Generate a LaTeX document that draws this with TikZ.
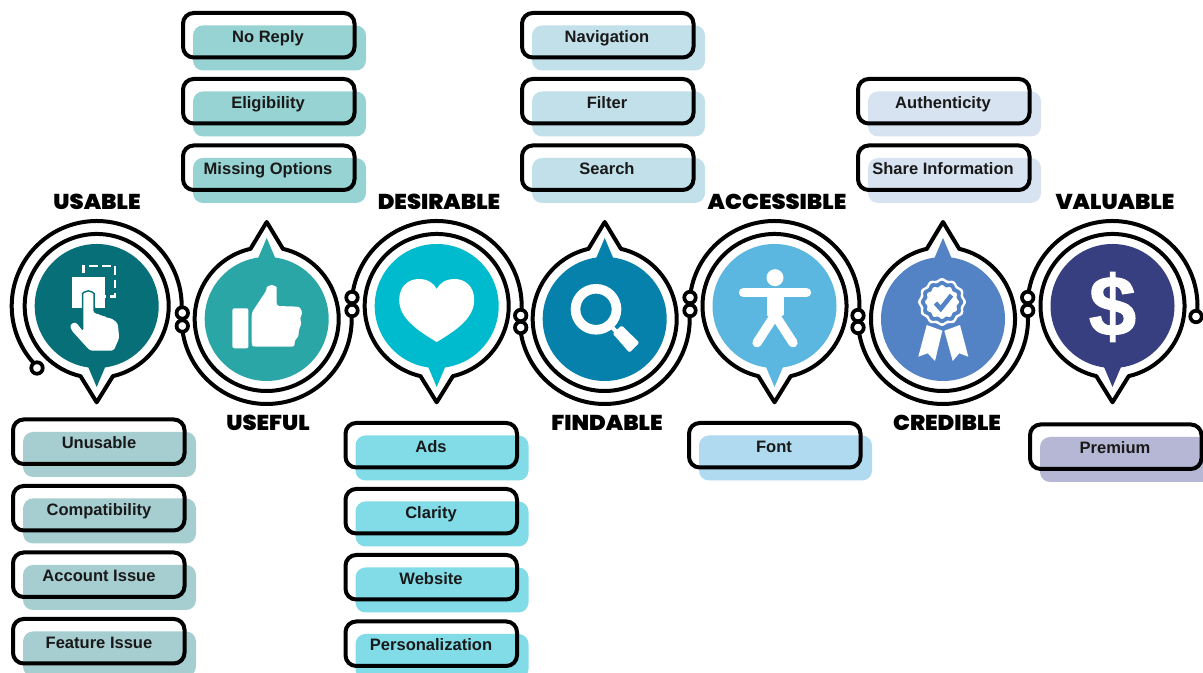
\documentclass[tikz,border=0pt]{standalone}
\usepackage{fontspec}
\setmainfont{Liberation Sans}
\newfontfamily\hdfont{Poppins}[UprightFont=* Black,FakeStretch=1.05]
\newfontfamily\dollarfont{Liberation Sans}[UprightFont=* Bold,FakeBold=1.2]
\usetikzlibrary{calc}
\definecolor{cA}{HTML}{066F78}\definecolor{cB}{HTML}{2BA6A6}\definecolor{cC}{HTML}{00BBCE}
\definecolor{cD}{HTML}{0681AB}\definecolor{cE}{HTML}{5BB7E0}\definecolor{cF}{HTML}{5383C5}\definecolor{cG}{HTML}{373F80}
\definecolor{sA}{HTML}{A6CDD0}\definecolor{sB}{HTML}{97D3D2}\definecolor{sC}{HTML}{82DCE8}
\definecolor{sD}{HTML}{C2E0E9}\definecolor{sE}{HTML}{AFDAEF}\definecolor{sF}{HTML}{D7E3F0}\definecolor{sG}{HTML}{B6B7D4}
\tikzset{
  x=0.75pt,y=0.75pt,
  ink/.style={draw=black,line width=3pt,line join=round},
  knot/.style={circle,draw=black,fill=white,line width=2.8pt,minimum size=8.6pt,inner sep=0pt},
  headlabel/.style={font=\hdfont\fontsize{16.1}{17}\selectfont,text=black,inner sep=0pt},
  itemlabel/.style={font=\bfseries\fontsize{12.4}{14}\selectfont,text=black!90,inner sep=0pt,anchor=base},
  icon/.style={fill=white,draw=none},
}
\newcommand{\bubble}[5]{%
  \coordinate (#5) at (#1,#2);
  \fill[#3] (#5) circle[radius=62];
  \fill[#3] ($(#5)+(-8.5,#4*61)$) -- ($(#5)+(0,#4*81)$) -- ($(#5)+(8.5,#4*61)$) -- cycle;
  \ifnum#4<0
    \draw[ink] ($(#5)+(283:72)$) arc[start angle=283,end angle=617,radius=72]
       -- ($(#5)+(0,-96.3)$) -- cycle;
  \else
    \draw[ink] ($(#5)+(103:72)$) arc[start angle=103,end angle=437,radius=72]
       -- ($(#5)+(0,97)$) -- cycle;
  \fi}
\newcommand{\itembox}[6]{%
  \fill[#3,rounded corners=7.5pt] (#1+12,673-#2-14) rectangle (#1+185,673-#2-59);
  \node[itemlabel] (#5) at (#1+#6,673-#2-31) {#4};
  \draw[draw=black,line width=3pt,rounded corners=8pt] (#1+2,673-#2-1.5) rectangle (#1+173.5,673-#2-46);}
\newcommand{\rosette}[2]{\fill[#2] plot[domain=0:360,samples=145,smooth] (\x:{#1+0.9*cos(12*\x)}) -- cycle;}
\begin{document}
\begin{tikzpicture}
\useasboundingbox (0,0) rectangle (1203,673);
\fill[white] (0,0) rectangle (1203,673);
\bubble{96.7}{367}{cA}{-1}{c1}
\bubble{266.7}{354}{cB}{1}{c2}
\bubble{436.7}{367}{cC}{-1}{c3}
\bubble{604.7}{354}{cD}{1}{c4}
\bubble{774.5}{367}{cE}{-1}{c5}
\bubble{943}{354}{cF}{1}{c6}
\bubble{1112.5}{367}{cG}{-1}{c7}
\coordinate (s1) at (37,305);
\coordinate (k1a) at (182.3,360);\coordinate (k1b) at (182.3,347);
\coordinate (k2a) at (352,375.5);\coordinate (k2b) at (352,362.5);
\coordinate (k3a) at (520.7,357.5);\coordinate (k3b) at (520.7,345.5);
\coordinate (k4a) at (690,375.5);\coordinate (k4b) at (690,362.5);
\coordinate (k5a) at (858,357.5);\coordinate (k5b) at (858,345.5);
\coordinate (k6a) at (1027.7,375.5);\coordinate (k6b) at (1027.7,362.5);
\coordinate (e7) at (1196,356.5);
\draw[ink] (c1)+(225:85) arc[start angle=225,end angle=-5,radius=85];
\draw[ink] (c2)+(185:85) arc[start angle=185,end angle=365,radius=85];
\draw[ink] (c3)+(174.5:85) arc[start angle=174.5,end angle=-7,radius=85];
\draw[ink] (c4)+(185:85) arc[start angle=185,end angle=365,radius=85];
\draw[ink] (c5)+(174.5:85) arc[start angle=174.5,end angle=-7,radius=85];
\draw[ink] (c6)+(185:85) arc[start angle=185,end angle=365,radius=85];
\draw[ink] (c7)+(174.5:85) arc[start angle=174.5,end angle=-7,radius=85];
\foreach \k in {s1,k1a,k1b,k2a,k2b,k3a,k3b,k4a,k4b,k5a,k5b,k6a,k6b,e7}
  \node[knot] at (\k) {};
% icon 1: hand
\begin{scope}[shift={(c1)}]
  \fill[icon] (-25,29.3) rectangle (8.3,-2);
  \draw[white,line width=2.2pt,dash pattern=on 6.2pt off 3.6pt] (-13.4,33) -- (-13.4,40) -- (18.3,40) -- (18.3,9.8) -- (8,9.8);
  \def\handpath{(-13.4,-25.7) -- (-13.4,9.3) arc[start angle=180,end angle=0,radius=5] -- (-3.4,-7.3)
    -- (1,-7.5) -- (3,-9.8) -- (7,-9.5) -- (9,-11.8) -- (14,-12) -- (21,-17) -- (22.5,-32) -- (17,-44.7) -- (-6.7,-44.7)
    -- (-25.5,-24) -- (-26.7,-18.5) -- (-21,-16) -- cycle}
  \draw[icon,draw=cA,line width=2.3pt,rounded corners=2pt] \handpath;
  \fill[icon,rounded corners=2pt] \handpath;
\end{scope}
% icon 2: thumb
\begin{scope}[shift={(c2)}]
  \fill[icon,rounded corners=1.5pt] (-34.3,10.7) rectangle (-18.3,-29.3);
  \fill[icon,rounded corners=2pt] (-15,6.3) -- (0,29) arc[start angle=180,end angle=0,radius=5] -- (10,13)
    -- (33,12.3) -- (36,5.7) -- (33,0.7) -- (35,-4.3) -- (32,-11) -- (32,-17.7) -- (28,-21) -- (28,-27.7) -- (-13,-27.7) -- (-15,-26) -- cycle;
\end{scope}
% icon 3: heart
\begin{scope}[shift={(c3)}]
  \fill[icon] (0,-36) .. controls (-20,-24) and (-37.5,-12) .. (-37.5,6)
    .. controls (-37.5,20) and (-28,27) .. (-18,27) .. controls (-9,27) and (-3,23) .. (0,17)
    .. controls (3,23) and (9,27) .. (18,27) .. controls (28,27) and (37.5,20) .. (37.5,6)
    .. controls (37.5,-12) and (20,-24) .. (0,-36) -- cycle;
\end{scope}
% icon 4: magnifier
\begin{scope}[shift={(c4)}]
  \draw[white,line width=7.2pt] (-8.7,9.7) circle[radius=20.5];
  \draw[white,line width=3pt] (7,-8) -- (14,-15);
  \fill[icon,rounded corners=1pt] (8,-14.5) -- (17,-6.5) -- (34.7,-23.7) -- (24.7,-33.7) -- cycle;
\end{scope}
% icon 5: person
\begin{scope}[shift={(c5)}]
  \fill[icon] (0.5,28.3) circle[radius=8.5];
  \draw[white,line width=7pt,line cap=round] (-31,13.3) -- (32,13.3);
  \fill[icon] (-8,13) rectangle (9,-9);
  \fill[icon] (-8,-9) -- (9,-9) -- (0.5,-14) -- cycle;
  \draw[white,line width=7pt,line cap=round] (0.5,-9) -- (-17.5,-36.7);
  \draw[white,line width=7pt,line cap=round] (0.5,-9) -- (18.5,-36.7);
\end{scope}
% icon 6: badge
\begin{scope}[shift={(c6)}]
  \fill[icon] (-16.3,-6) -- (-0.7,-11.7) -- (-8,-42) -- (-15.3,-34.3) -- (-24.7,-37.7) -- cycle;
  \fill[icon] (17,-6) -- (1.3,-11.7) -- (9.7,-42) -- (16.3,-34.3) -- (25.3,-37.7) -- cycle;
  \begin{scope}[shift={(-1,17)}]
    \rosette{26}{cF}
    \rosette{23}{white}
    \rosette{20.3}{cF}
    \rosette{16}{white}
    \draw[cF,line width=3.4pt,line join=miter] (-6.5,-1) -- (-1.3,-6.8) -- (9.5,6.8);
  \end{scope}
\end{scope}
% icon 7: dollar
\node[text=white,font=\dollarfont\fontsize{64}{64}\selectfont,inner sep=0pt] (dollar) at (1112.5,366) {\$};
% headings
\node[headlabel] (hUsable) at (97,471) {USABLE};
\node[headlabel] (hUseful) at (268,250) {USEFUL};
\node[headlabel] (hDesirable) at (439,471) {DESIRABLE};
\node[headlabel] (hFindable) at (607,250) {FINDABLE};
\node[headlabel] (hAccessible) at (777,471) {ACCESSIBLE};
\node[headlabel] (hCredible) at (947,250) {CREDIBLE};
\node[headlabel] (hValuable) at (1115,471) {VALUABLE};
% items
\itembox{11}{418}{sA}{Unusable}{a1}{88}
\itembox{11}{484.5}{sA}{Compatibility}{a2}{88}
\itembox{11}{551}{sA}{Account Issue}{a3}{88}
\itembox{11}{617.5}{sA}{Feature Issue}{a4}{88}
\itembox{181}{11.5}{sB}{No Reply}{b1}{87}
\itembox{181}{77.5}{sB}{Eligibility}{b2}{87}
\itembox{181}{144}{sB}{Missing Options}{b3}{87}
\itembox{343.5}{421.5}{sC}{Ads}{c1t}{87.5}
\itembox{343.5}{487.5}{sC}{Clarity}{c2t}{87.5}
\itembox{343.5}{553.5}{sC}{Website}{c3t}{87.5}
\itembox{343.5}{620}{sC}{Personalization}{c4t}{87.5}
\itembox{520}{11.5}{sD}{Navigation}{d1}{87}
\itembox{520}{77.5}{sD}{Filter}{d2}{87}
\itembox{520}{144}{sD}{Search}{d3}{87}
\itembox{687}{421.5}{sE}{Font}{e1}{87}
\itembox{856}{77.5}{sF}{Authenticity}{f1}{87}
\itembox{856}{144}{sF}{Share Information}{f2}{87}
\itembox{1028}{423}{sG}{Premium}{g1}{87}
\end{tikzpicture}
\end{document}
